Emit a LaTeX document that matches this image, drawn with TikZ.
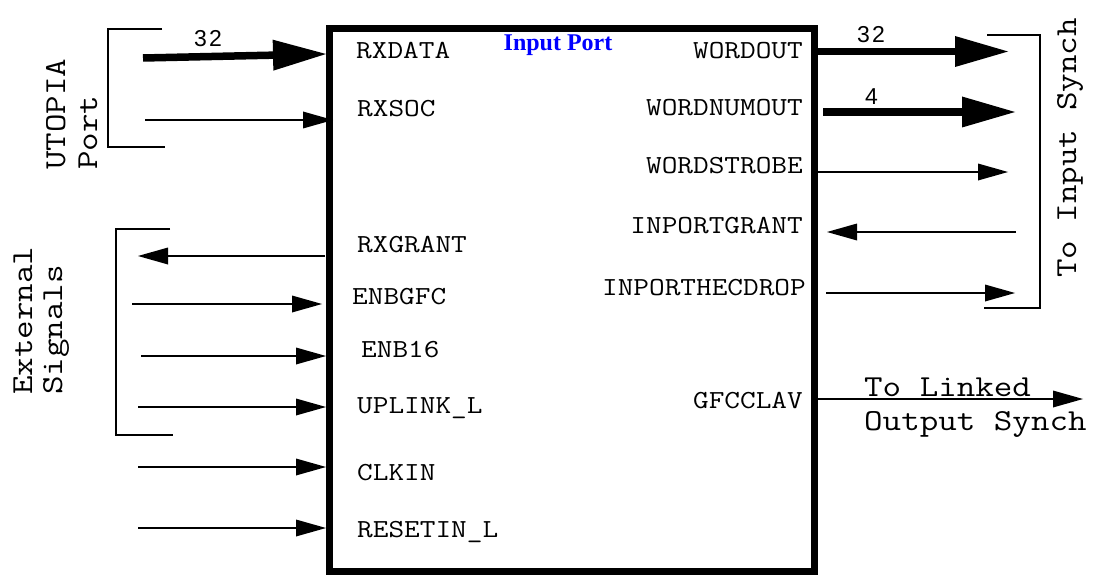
\documentclass[tikz,border=0pt]{standalone}
\usepackage{fontspec}
\usepackage{graphicx}
\setmainfont{Liberation Serif}
\newfontfamily\titlefont{Liberation Serif}
\newfontfamily\numfont[LetterSpace=10]{Liberation Sans}
\usetikzlibrary{arrows.meta}
\definecolor{titleblue}{RGB}{0,0,255}
\newcommand{\pinwide}[1]{\scalebox{1.17}[1]{#1}}
\newcommand{\notewide}[1]{\scalebox{1.18}[1]{#1}}
\begin{document}
\begin{tikzpicture}[x=1pt,y=-1pt,
  pin/.style={font=\fontsize{26}{30}\selectfont\ttfamily, inner sep=0pt},
  note/.style={font=\fontsize{30.5}{34}\selectfont\ttfamily, inner sep=0pt},
  width/.style={font=\fontsize{23}{26}\selectfont\numfont, inner sep=0pt},
  thinarrow/.style={line width=1.3pt, -{Triangle[length=30pt,width=17pt,line width=0pt]}},
  busarrow/.style={line width=7.5pt, -{Triangle[length=53pt,width=31pt,line width=0pt]}},
  bracket/.style={line width=1.3pt},
  block/.style={draw, line width=7pt, minimum width=485pt, minimum height=542pt, inner sep=0pt}]
\useasboundingbox (0,0) rectangle (1097,575);

% main block
\node[block] (box) at (571.5,300) {};
\node[font=\fontsize{24}{26}\selectfont\titlefont\bfseries, text=titleblue, anchor=base, inner sep=0pt] (title) at (558,51) {Input Port};

% left pin labels
\node[pin, anchor=base west] (lrxdata) at (356,59) {\pinwide{RXDATA}};
\node[pin, anchor=base west] (lrxsoc) at (357,117) {\pinwide{RXSOC}};
\node[pin, anchor=base west] (lrxgrant) at (357,252) {\pinwide{RXGRANT}};
\node[pin, anchor=base west] (lenbgfc) at (352,304) {\pinwide{ENBGFC}};
\node[pin, anchor=base west] (lenb16) at (361,357) {\pinwide{ENB16}};
\node[pin, anchor=base west] (luplink) at (357,413) {\pinwide{UPLINK\_L}};
\node[pin, anchor=base west] (lclkin) at (357,480) {\pinwide{CLKIN}};
\node[pin, anchor=base west] (lresetin) at (357,537) {\pinwide{RESETIN\_L}};

% right pin labels
\node[pin, anchor=base east] (lwordout) at (803,59) {\pinwide{WORDOUT}};
\node[pin, anchor=base east] (lwordnum) at (803,116) {\pinwide{WORDNUMOUT}};
\node[pin, anchor=base east] (lstrobe) at (803,173) {\pinwide{WORDSTROBE}};
\node[pin, anchor=base east] (lgrant) at (803,233) {\pinwide{INPORTGRANT}};
\node[pin, anchor=base east] (lhec) at (806,295) {\pinwide{INPORTHECDROP}};
\node[pin, anchor=base east] (lgfc) at (803,408) {\pinwide{GFCCLAV}};

% connector end points
\coordinate (rxdataS) at (143,58);   \coordinate (rxdataE) at (326,54);
\coordinate (rxsocS) at (145,120);   \coordinate (rxsocE) at (333,120);
\coordinate (rxgrantS) at (325,256); \coordinate (rxgrantE) at (138,256);
\coordinate (enbgfcS) at (132,304);  \coordinate (enbgfcE) at (322,304);
\coordinate (enb16S) at (141,356);   \coordinate (enb16E) at (326,356);
\coordinate (uplinkS) at (138,407);  \coordinate (uplinkE) at (326,407);
\coordinate (clkinS) at (138,467);   \coordinate (clkinE) at (326,467);
\coordinate (resetS) at (138,528);   \coordinate (resetE) at (326,528);

\coordinate (wordoutS) at (818,51.5);  \coordinate (wordoutE) at (1008,51.5);
\coordinate (wordnumS) at (823,112);   \coordinate (wordnumE) at (1015,112);
\coordinate (strobeS) at (818,172);    \coordinate (strobeE) at (1008,172);
\coordinate (grantS) at (1016,232);    \coordinate (grantE) at (827,232);
\coordinate (hecS) at (826,293);       \coordinate (hecE) at (1015,293);
\coordinate (gfcS) at (818,399);       \coordinate (gfcE) at (1083,399);

% left connectors
\draw[busarrow] (rxdataS) -- (rxdataE);
\draw[thinarrow] (rxsocS) -- (rxsocE);
\draw[thinarrow] (rxgrantS) -- (rxgrantE);
\draw[thinarrow] (enbgfcS) -- (enbgfcE);
\draw[thinarrow] (enb16S) -- (enb16E);
\draw[thinarrow] (uplinkS) -- (uplinkE);
\draw[thinarrow] (clkinS) -- (clkinE);
\draw[thinarrow] (resetS) -- (resetE);

% right connectors
\draw[busarrow] (wordoutS) -- (wordoutE);
\draw[busarrow] (wordnumS) -- (wordnumE);
\draw[thinarrow] (strobeS) -- (strobeE);
\draw[thinarrow] (grantS) -- (grantE);
\draw[thinarrow] (hecS) -- (hecE);
\draw[thinarrow] (gfcS) -- (gfcE);

% bus widths
\node[width, anchor=base] (w1) at (208,47) {32};
\node[width, anchor=base] (w2) at (871,43) {32};
\node[width, anchor=base] (w3) at (871.5,105) {4};

% brackets
\coordinate (ub1) at (162,29); \coordinate (ub2) at (108,29);
\coordinate (ub3) at (108,147); \coordinate (ub4) at (165,147);
\draw[bracket] (ub1) -- (ub2) -- (ub3) -- (ub4);
\coordinate (eb1) at (170,229); \coordinate (eb2) at (116,229);
\coordinate (eb3) at (116,435); \coordinate (eb4) at (173,435);
\draw[bracket] (eb1) -- (eb2) -- (eb3) -- (eb4);
\coordinate (rb1) at (987,35); \coordinate (rb2) at (1040,35);
\coordinate (rb3) at (1040,308); \coordinate (rb4) at (984,308);
\draw[bracket] (rb1) -- (rb2) -- (rb3) -- (rb4);

% annotations
\node[note, rotate=90, anchor=base west] (utopia) at (65,170) {\notewide{UTOPIA}};
\node[note, rotate=90, anchor=base west] (port) at (97,170) {\notewide{Port}};
\node[note, rotate=90, anchor=base west] (ext) at (32,395) {\notewide{External}};
\node[note, rotate=90, anchor=base west] (sig) at (62,395) {\notewide{Signals}};
\node[note, rotate=90, anchor=base west] (tis) at (1076,278) {\notewide{To Input Synch}};
\node[note, anchor=base west] (tl) at (864,396) {\notewide{To Linked}};
\node[note, anchor=base west] (os) at (864,430) {\notewide{Output Synch}};
\end{tikzpicture}
\end{document}
